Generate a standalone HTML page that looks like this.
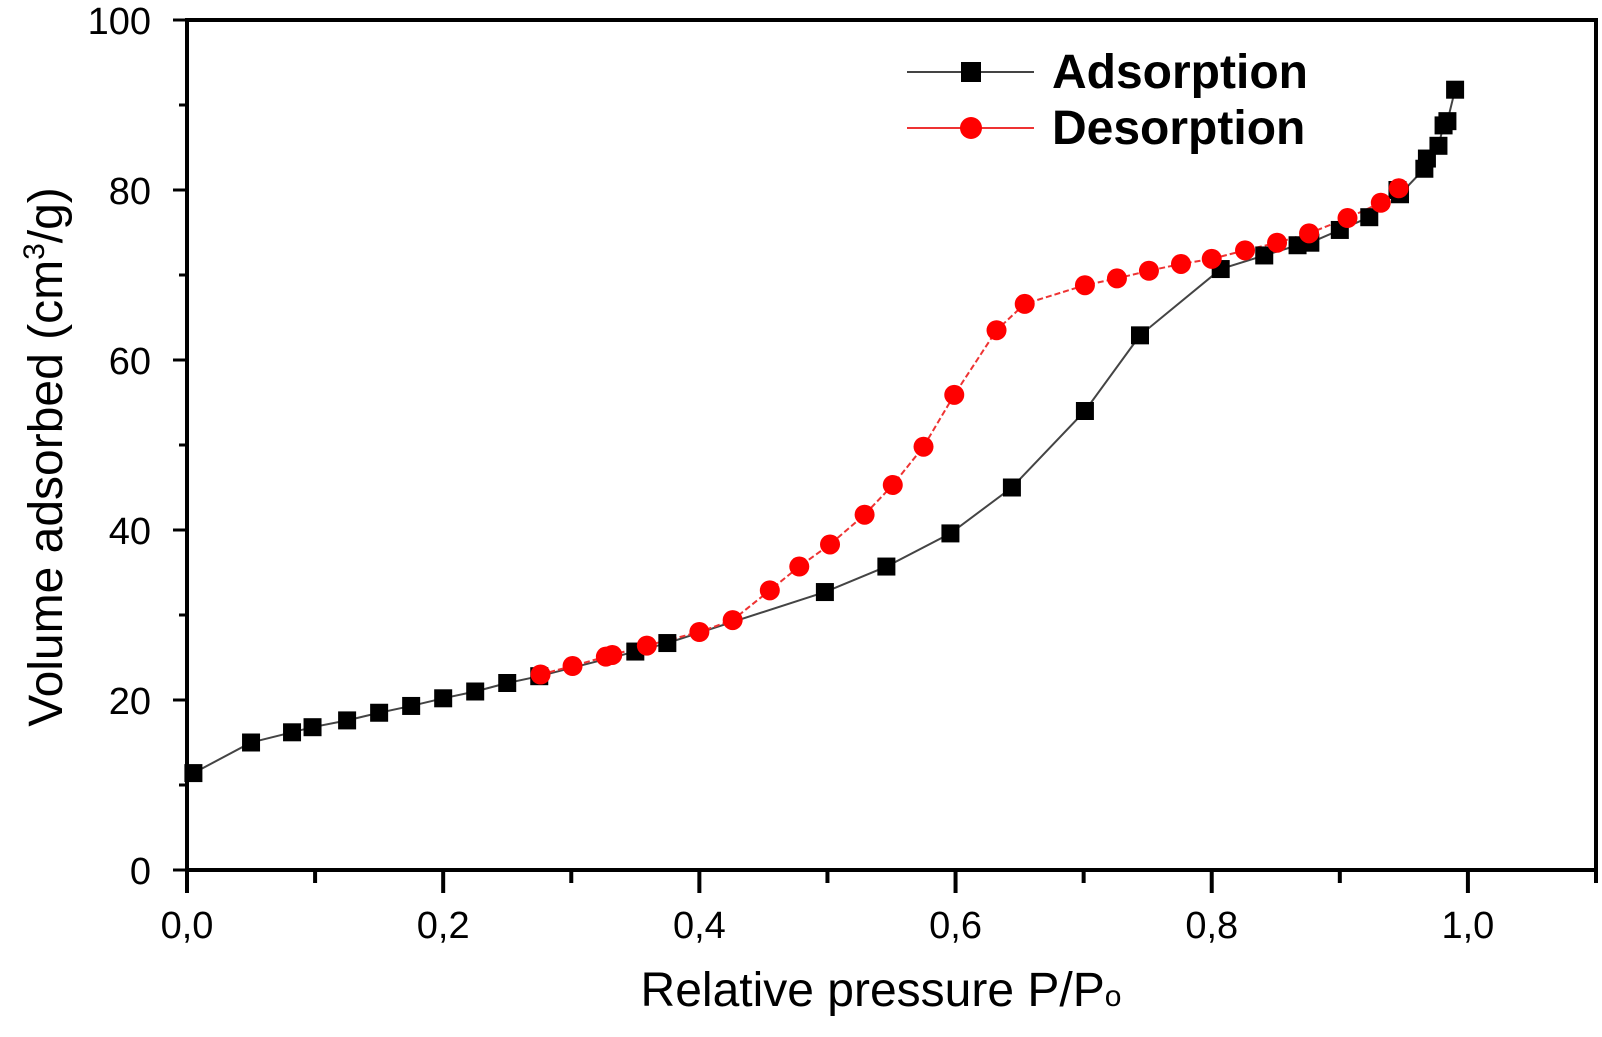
<!DOCTYPE html>
<html><head><meta charset="utf-8"><style>
html,body{margin:0;padding:0;background:#fff;}
svg{display:block;font-family:"Liberation Sans",Arial,sans-serif;}
</style></head><body>
<svg id="chart" width="1602" height="1037" viewBox="0 0 1602 1037" xmlns="http://www.w3.org/2000/svg">
<g id="axes"></g>
<g id="series"></g>
<g>
  <line x1="907" y1="72" x2="1034" y2="72" stroke="#444" stroke-width="2"/>
  <rect x="961" y="62" width="20" height="20" fill="#000"/>
  <text x="1052" y="88" font-size="48" font-weight="bold">Adsorption</text>
  <line x1="907" y1="128" x2="1034" y2="128" stroke="#e33" stroke-width="2"/>
  <circle cx="971" cy="128" r="11" fill="#f00"/>
  <text x="1052" y="144" font-size="48" font-weight="bold">Desorption</text>
</g>
<text x="881" y="1006" font-size="48" text-anchor="middle">Relative pressure P/P<tspan font-size="30">o</tspan></text>
<text transform="translate(62,457) rotate(-90)" font-size="48" text-anchor="middle">Volume adsorbed (cm<tspan font-size="30" dy="-18">3</tspan><tspan dy="18">/g)</tspan></text>
</svg>
<script>
const xTicks=[0,0.2,0.4,0.6,0.8,1.0];
const xTickLabels=["0,0","0,2","0,4","0,6","0,8","1,0"];
const yTicks=[0,20,40,60,80,100];
const yTickLabels=["0","20","40","60","80","100"];
const adsX=[0.005,0.05,0.082,0.098,0.125,0.15,0.175,0.2,0.225,0.25,0.275,0.35,0.375,0.498,0.546,0.596,0.644,0.701,0.744,0.807,0.841,0.867,0.877,0.9,0.923,0.945,0.947,0.966,0.968,0.977,0.981,0.984,0.99];
const adsY=[11.4,15,16.2,16.8,17.6,18.5,19.3,20.2,21,22,22.8,25.7,26.7,32.7,35.7,39.6,45,54,62.9,70.7,72.3,73.5,73.8,75.3,76.8,80,79.5,82.5,83.7,85.2,87.6,88.1,91.8];
const desX=[0.276,0.301,0.327,0.332,0.359,0.4,0.426,0.455,0.478,0.502,0.529,0.551,0.575,0.599,0.632,0.654,0.701,0.726,0.751,0.776,0.8,0.826,0.851,0.876,0.906,0.932,0.946];
const desY=[23,24,25.1,25.3,26.4,28,29.4,32.9,35.7,38.3,41.8,45.3,49.8,55.9,63.5,66.6,68.8,69.6,70.5,71.3,71.9,72.9,73.8,74.9,76.7,78.5,80.2];

const NS="http://www.w3.org/2000/svg";
const X0=187,X1=1596,Y0=870,Y1=20;
const sx=v=>X0+v/1.1*(X1-X0);
const sy=v=>Y0-v/100*(Y0-Y1);
function mk(tag,attrs,parent){const e=document.createElementNS(NS,tag);for(const k in attrs)e.setAttribute(k,attrs[k]);parent.appendChild(e);return e;}
const ax=document.getElementById('axes');
let frame=mk('rect',{x:X0,y:Y1,width:X1-X0,height:Y0-Y1,fill:'none',stroke:'#000','stroke-width':4},ax);


for(let v=0;v<=1.1001;v+=0.1){
  const major=Math.round(v*10)%2===0;
  let t=mk('line',{x1:sx(v),y1:Y0,x2:sx(v),y2:Y0+(major?23:13),stroke:'#000','stroke-width':4},ax);
  
  
}
for(let v=0;v<=100;v+=10){
  const major=v%20===0;
  let t=mk('line',{x1:X0,y1:sy(v),x2:X0-(major?14:8),y2:sy(v),stroke:'#000','stroke-width':3},ax);
  
  
}
xTicks.forEach((v,i)=>{
  let t=mk('text',{x:sx(v),y:938,'font-size':38,'text-anchor':'middle'},ax);
  t.textContent=xTickLabels[i];
  
  
});
yTicks.forEach((v,i)=>{
  let t=mk('text',{x:151,y:sy(v)+14,'font-size':38,'text-anchor':'end'},ax);
  t.textContent=yTickLabels[i];
  
  
});
const sg=document.getElementById('series');
let pa=mk('polyline',{points:adsX.map((x,i)=>sx(x)+','+sy(adsY[i])).join(' '),fill:'none',stroke:'#444','stroke-width':2},sg);


let pd=mk('polyline',{points:desX.map((x,i)=>sx(x)+','+sy(desY[i])).join(' '),fill:'none',stroke:'#e33','stroke-width':2,'stroke-dasharray':'6,3'},sg);


adsX.forEach((x,i)=>{
  let r=mk('rect',{x:sx(x)-9,y:sy(adsY[i])-9,width:18,height:18,fill:'#000'},sg);
  
  
});
desX.forEach((x,i)=>{
  let c=mk('circle',{cx:sx(x),cy:sy(desY[i]),r:10,fill:'#f00'},sg);
  
  
});
</script>
</body></html>
